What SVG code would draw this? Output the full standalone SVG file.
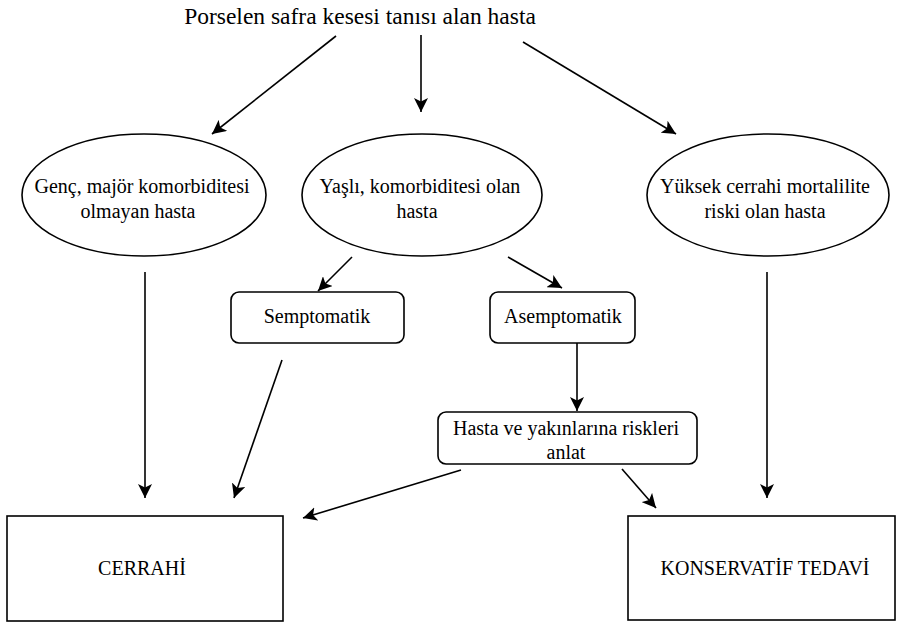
<svg xmlns="http://www.w3.org/2000/svg" width="897" height="624" viewBox="0 0 897 624">
  <style>
    text { font-family: 'Liberation Serif', 'DejaVu Serif', 'Times New Roman', serif; font-size: 20px; fill: #000; text-anchor: middle; }
    .title { font-size: 23.5px; }
    .shape { fill: #fff; stroke: #000; stroke-width: 1.6; }
    .conn line { stroke: #000; stroke-width: 1.6; marker-end: url(#arr); }
  </style>
  <defs>
    <marker id="arr" viewBox="0 0 12 12" refX="12" refY="6" markerWidth="14" markerHeight="14" markerUnits="userSpaceOnUse" orient="auto">
      <path d="M0,0 L12,6 L0,12 L3,6 z" fill="#000"/>
    </marker>
  </defs>
  <rect width="897" height="624" fill="#fff"/>

  <g id="title">
    <text class="title" x="360" y="24">Porselen safra kesesi tanısı alan hasta</text>
  </g>

  <g id="genc">
    <ellipse class="shape" cx="144" cy="195" rx="122" ry="61"/>
    <text x="142" y="193">Genç, majör komorbiditesi</text>
    <text x="138" y="218">olmayan hasta</text>
  </g>

  <g id="yasli">
    <ellipse class="shape" cx="422" cy="195" rx="120" ry="61"/>
    <text x="420" y="193">Yaşlı, komorbiditesi olan</text>
    <text x="417" y="218">hasta</text>
  </g>

  <g id="yuksek">
    <ellipse class="shape" cx="768" cy="195" rx="121" ry="61"/>
    <text x="765" y="193">Yüksek cerrahi mortalilite</text>
    <text x="765" y="218">riski olan hasta</text>
  </g>

  <g id="semptomatik">
    <rect class="shape" x="231" y="292" width="173" height="51" rx="8"/>
    <text x="317" y="323">Semptomatik</text>
  </g>

  <g id="asemptomatik">
    <rect class="shape" x="490" y="292" width="145" height="51" rx="8"/>
    <text x="563" y="323">Asemptomatik</text>
  </g>

  <g id="anlat">
    <rect class="shape" x="438" y="412" width="259" height="52" rx="8"/>
    <text x="566" y="435">Hasta ve yakınlarına riskleri</text>
    <text x="566" y="459">anlat</text>
  </g>

  <g id="cerrahi">
    <rect class="shape" x="7" y="516" width="276" height="105"/>
    <text x="142" y="575">CERRAHİ</text>
  </g>

  <g id="konservatif">
    <rect class="shape" x="628" y="516" width="267" height="104"/>
    <text x="765" y="575">KONSERVATİF TEDAVİ</text>
  </g>

  <g class="conn" id="connectors">
    <line x1="336" y1="36" x2="212" y2="134"/>
    <line x1="421" y1="35" x2="421" y2="112"/>
    <line x1="523" y1="42" x2="676" y2="134"/>
    <line x1="352" y1="257" x2="318" y2="291"/>
    <line x1="508" y1="257" x2="562" y2="288"/>
    <line x1="577" y1="343" x2="577" y2="411"/>
    <line x1="145" y1="272" x2="145" y2="498"/>
    <line x1="282" y1="360" x2="234" y2="498"/>
    <line x1="461" y1="470" x2="303" y2="518"/>
    <line x1="622" y1="469" x2="656" y2="508"/>
    <line x1="767" y1="272" x2="767" y2="498"/>
  </g>
</svg>
